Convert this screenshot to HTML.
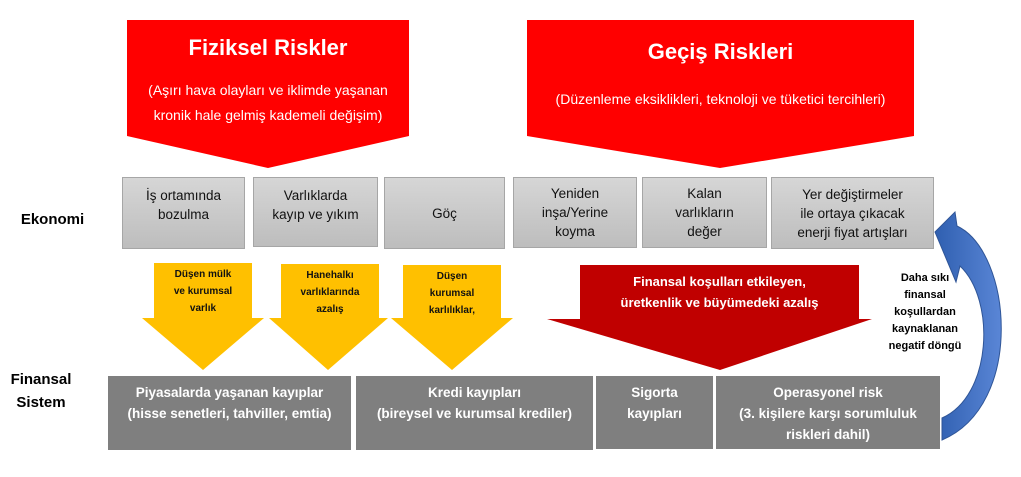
<!DOCTYPE html>
<html><head><meta charset="utf-8"><style>
body{margin:0;width:1021px;height:477px;background:#fff;position:relative;overflow:hidden;font-family:"Liberation Sans",sans-serif}
.a{position:absolute;display:flex;align-items:center;justify-content:center;text-align:center;box-sizing:border-box}
.g{background:linear-gradient(#d6d6d6,#bdbdbd);border:1.5px solid #a6a6a6;font-size:13.5px;color:#111;line-height:19px}
.d{background:#7f7f7f;color:#fff;font-size:13.5px;line-height:21px;font-weight:bold;align-items:flex-start;padding-top:6px}
.y{font-size:10px;font-weight:bold;color:#111;line-height:17px}
</style></head><body>
<svg width="1021" height="477" style="position:absolute;left:0;top:0">
<defs><linearGradient id="bl" x1="0" y1="0" x2="1" y2="0"><stop offset="0" stop-color="#2f5fb0"/><stop offset="1" stop-color="#5a86d6"/></linearGradient></defs>
<polygon points="127,20 409,20 409,136 268,168 127,136" fill="#ff0000"/>
<polygon points="527,20 914,20 914,136 720,168 527,136" fill="#ff0000"/>
<polygon points="154,263 252,263 252,318 264,318 203,370 142,318 154,318" fill="#ffc000"/>
<polygon points="281,264 379,264 379,318 388,318 328,370 269,318 281,318" fill="#ffc000"/>
<polygon points="403,265 501,265 501,318 513,318 452,370 391,318 403,318" fill="#ffc000"/>
<polygon points="580,265 859,265 859,319 872,319 720,370 547,319 580,319" fill="#c00000"/>
<path d="M935,232 L955,212 L957,226 C1012,252 1025,405 942,440 L942,418 C992,396 996,300 960,266 L956,282 Z" fill="url(#bl)" stroke="#2f5597" stroke-width="1"/>
</svg>
<div class="a" style="left:127px;top:28px;width:282px;height:40px;color:#fff;font-weight:bold;font-size:22px">Fiziksel Riskler</div>
<div class="a" style="left:135px;top:78px;width:266px;height:50px;color:#fff;font-size:14px;line-height:25px">(Aşırı hava olayları ve iklimde yaşanan kronik hale gelmiş kademeli değişim)</div>
<div class="a" style="left:527px;top:32px;width:387px;height:40px;color:#fff;font-weight:bold;font-size:22px">Geçiş Riskleri</div>
<div class="a" style="left:527px;top:86px;width:387px;height:25px;color:#fff;font-size:14px">(Düzenleme eksiklikleri, teknoloji ve tüketici tercihleri)</div>
<div class="a g" style="left:122px;top:177px;width:123px;height:72px;align-items:flex-start;padding-top:8px">İş ortamında<br>bozulma</div>
<div class="a g" style="left:253px;top:177px;width:125px;height:70px;align-items:flex-start;padding-top:8px">Varlıklarda<br>kayıp ve yıkım</div>
<div class="a g" style="left:384px;top:177px;width:121px;height:72px">Göç</div>
<div class="a g" style="left:513px;top:177px;width:124px;height:71px">Yeniden<br>inşa/Yerine<br>koyma</div>
<div class="a g" style="left:642px;top:177px;width:125px;height:71px">Kalan<br>varlıkların<br>değer</div>
<div class="a g" style="left:771px;top:177px;width:163px;height:72px">Yer değiştirmeler<br>ile ortaya çıkacak<br>enerji fiyat artışları</div>
<div class="a y" style="left:154px;top:266px;width:98px;height:50px">Düşen mülk<br>ve kurumsal<br>varlık</div>
<div class="a y" style="left:281px;top:267px;width:98px;height:50px">Hanehalkı<br>varlıklarında<br>azalış</div>
<div class="a y" style="left:403px;top:268px;width:98px;height:50px">Düşen<br>kurumsal<br>karlılıklar,</div>
<div class="a" style="left:580px;top:268px;width:279px;height:48px;color:#fff;font-weight:bold;font-size:13px;line-height:21px">Finansal koşulları etkileyen,<br>üretkenlik ve büyümedeki azalış</div>
<div class="a" style="left:880px;top:270px;width:90px;height:85px;font-weight:bold;font-size:11px;line-height:17px">Daha sıkı<br>finansal<br>koşullardan<br>kaynaklanan<br>negatif döngü</div>
<div class="a" style="left:10px;top:208px;width:85px;height:22px;font-weight:bold;font-size:15px">Ekonomi</div>
<div class="a" style="left:0px;top:368px;width:82px;height:46px;font-weight:bold;font-size:15px;line-height:23px">Finansal<br>Sistem</div>
<div class="a d" style="left:108px;top:376px;width:243px;height:74px">Piyasalarda yaşanan kayıplar<br>(hisse senetleri, tahviller, emtia)</div>
<div class="a d" style="left:356px;top:376px;width:237px;height:74px">Kredi kayıpları<br>(bireysel ve kurumsal krediler)</div>
<div class="a d" style="left:596px;top:376px;width:117px;height:73px">Sigorta<br>kayıpları</div>
<div class="a d" style="left:716px;top:376px;width:224px;height:73px">Operasyonel risk<br>(3. kişilere karşı sorumluluk<br>riskleri dahil)</div>
</body></html>
